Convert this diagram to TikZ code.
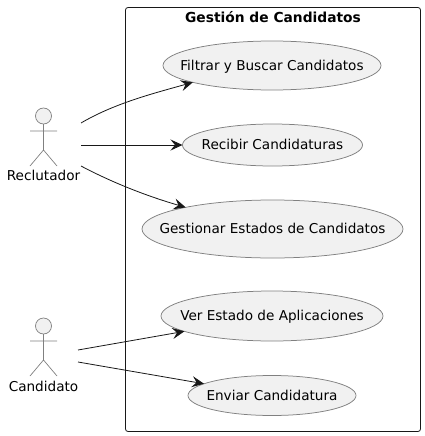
\documentclass[tikz,border=0pt]{standalone}
\usepackage{fontspec}
\setmainfont{DejaVu Sans}
\usetikzlibrary{shapes.geometric,arrows.meta}
\definecolor{ufill}{HTML}{F1F1F1}
\definecolor{uline}{HTML}{808080}
\definecolor{ink}{HTML}{181818}
\tikzset{
  x=1pt,y=-1pt,
  usecase/.style={ellipse,draw=uline,fill=ufill,line width=.75pt,inner sep=0pt,outer sep=0pt,text=black,font=\fontsize{13.6}{16}\selectfont},
  actorline/.style={draw=uline,line width=.7pt},
  actorname/.style={inner sep=0pt,text=black,font=\fontsize{13.6}{16}\selectfont},
  conn/.style={draw=ink,line width=.8pt,-{Stealth[length=12pt,width=11pt,inset=4.5pt]}},
  sysbox/.style={draw=ink,line width=.8pt,rounded corners=2.5pt},
}
\newcommand{\ctext}[1]{\smash{\makebox[0pt]{\raisebox{-4.6pt}{#1}}}}
\newcommand{\actorfig}[2]{%
  \draw[actorline,fill=ufill] (#1,#2) circle[radius=8];
  \draw[actorline] (#1,#2+8) -- (#1,#2+34) (#1-13.5,#2+15) -- (#1+13.5,#2+15)
    (#1-13.5,#2+50) -- (#1,#2+34) -- (#1+13.5,#2+50);
}
\begin{document}
\begin{tikzpicture}
\useasboundingbox (0,0) rectangle (424,436);
\draw[sysbox] (125.5,7.5) rectangle (420.5,431.5);
\node[inner sep=0pt,font=\fontsize{13.8}{16}\selectfont\bfseries] (title) at (273,17) {Gestión de Candidatos};
\node[usecase,minimum width=218,minimum height=49] (filtrar) at (272,65.5) {\ctext{Filtrar y Buscar Candidatos}};
\node[usecase,minimum width=180,minimum height=42] (recibir) at (272.5,145) {\ctext{Recibir Candidaturas}};
\node[usecase,minimum width=261,minimum height=58] (gestionar) at (272.5,229) {\ctext{Gestionar Estados de Candidatos}};
\node[usecase,minimum width=222,minimum height=50] (ver) at (272,316) {\ctext{Ver Estado de Aplicaciones}};
\node[usecase,minimum width=168,minimum height=40] (enviar) at (272,395.5) {\ctext{Enviar Candidatura}};
\actorfig{43.5}{116}
\actorfig{43.5}{326}
\node[actorname] (reclutador) at (43.5,175) {Reclutador};
\node[actorname] (candidato) at (43.5,386) {Candidato};
\coordinate (r1) at (81,123);
\coordinate (r2) at (81,145);
\coordinate (r3) at (81,166);
\coordinate (c1) at (78,350);
\coordinate (c2) at (78,362);
\draw[conn] (r1) .. controls (115,103) and (155,93) .. (filtrar.192.5);
\draw[conn] (r2) -- (recibir);
\draw[conn] (r3) .. controls (115,184) and (150,197) .. (gestionar.166.2);
\draw[conn] (c1) -- (ver);
\draw[conn] (c2) -- (enviar);
\end{tikzpicture}
\end{document}
